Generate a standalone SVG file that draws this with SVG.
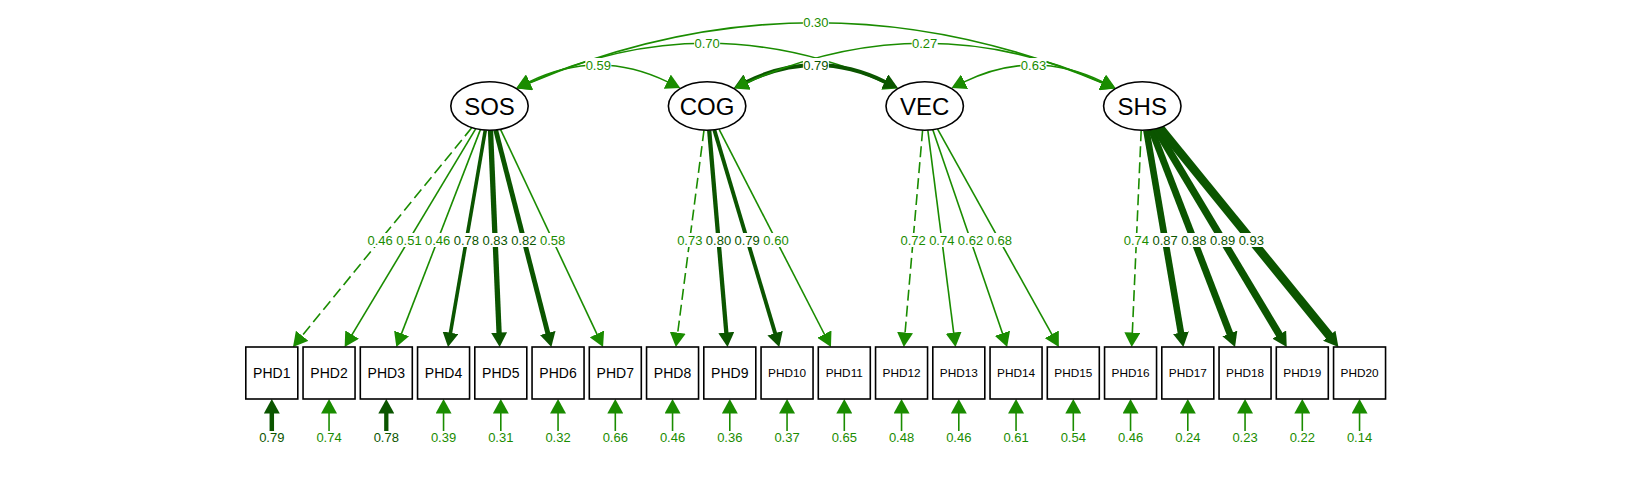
<svg xmlns="http://www.w3.org/2000/svg" width="1632" height="480" viewBox="0 0 1632 480">
<style>
.lt{stroke:#1A8C00;fill:none;stroke-width:1.6}
.dk{stroke:#0B5500;fill:none}
.ds{stroke-dasharray:11 5}
.t{font-family:"Liberation Sans",Arial,sans-serif;font-size:13px;text-anchor:middle}
.tl{fill:#1A8C00}
.td{fill:#0B5500}
.bg{fill:#fff}
.nd{fill:#fff;stroke:#000;stroke-width:1.6}
.nt{font-family:"Liberation Sans",Arial,sans-serif;text-anchor:middle;fill:#000}
</style>
<defs>
<marker id="aL" markerUnits="userSpaceOnUse" viewBox="0 -8 14.5 16" markerWidth="14.5" markerHeight="16" refX="1" refY="0" orient="auto-start-reverse"><path d="M0,-8L14.5,0L0,8z" fill="#1A8C00"/></marker>
<marker id="aD" markerUnits="userSpaceOnUse" viewBox="0 -8 14.5 16" markerWidth="14.5" markerHeight="16" refX="1" refY="0" orient="auto-start-reverse"><path d="M0,-8L14.5,0L0,8z" fill="#0B5500"/></marker>
</defs>
<rect width="1632" height="480" fill="#fff"/>
<g id="connectors">
<path class="lt" d="M528.44,82.14Q598.3,47.86 668.16,82.14" marker-start="url(#aL)" marker-end="url(#aL)"/>
<path class="lt" d="M528.70,82.90Q707.1,3.70 885.50,82.90" marker-start="url(#aL)" marker-end="url(#aL)"/>
<path class="lt" d="M528.90,83.17Q815.9,-37.77 1102.90,83.17" marker-start="url(#aL)" marker-end="url(#aL)"/>
<path class="dk" stroke-width="3.9" d="M746.04,82.14Q815.9,47.86 885.76,82.14" marker-start="url(#aD)" marker-end="url(#aD)"/>
<path class="lt" d="M746.30,82.90Q924.7,3.70 1103.10,82.90" marker-start="url(#aL)" marker-end="url(#aL)"/>
<path class="lt" d="M963.64,82.14Q1033.5,47.86 1103.36,82.14" marker-start="url(#aL)" marker-end="url(#aL)"/>
<line class="lt ds" x1="471.9" y1="127.6" x2="301.5" y2="336.5" marker-end="url(#aL)"/>
<line class="lt" x1="475.8" y1="128.7" x2="351.6" y2="335.4" marker-end="url(#aL)"/>
<line class="lt" x1="480.4" y1="129.6" x2="401.2" y2="334.4" marker-end="url(#aL)"/>
<line class="dk" stroke-width="3.6" x1="485.3" y1="130.2" x2="450.3" y2="333.7" marker-end="url(#aD)"/>
<line class="dk" stroke-width="5.3" x1="490.5" y1="130.3" x2="499.1" y2="333.5" marker-end="url(#aD)"/>
<line class="dk" stroke-width="4.9" x1="495.7" y1="130.0" x2="548.0" y2="333.9" marker-end="url(#aD)"/>
<line class="lt" x1="500.5" y1="129.3" x2="597.3" y2="334.8" marker-end="url(#aL)"/>
<line class="lt ds" x1="704.0" y1="130.2" x2="677.6" y2="333.6" marker-end="url(#aL)"/>
<line class="dk" stroke-width="4.3" x1="709.2" y1="130.3" x2="726.4" y2="333.5" marker-end="url(#aD)"/>
<line class="dk" stroke-width="3.9" x1="714.3" y1="129.9" x2="775.4" y2="334.1" marker-end="url(#aD)"/>
<line class="lt" x1="719.0" y1="129.1" x2="824.8" y2="335.0" marker-end="url(#aL)"/>
<line class="lt ds" x1="922.6" y1="130.3" x2="905.0" y2="333.5" marker-end="url(#aL)"/>
<line class="lt" x1="927.8" y1="130.2" x2="953.8" y2="333.6" marker-end="url(#aL)"/>
<line class="lt" x1="932.8" y1="129.8" x2="1002.8" y2="334.2" marker-end="url(#aL)"/>
<line class="lt" x1="937.5" y1="128.9" x2="1052.3" y2="335.2" marker-end="url(#aL)"/>
<line class="lt ds" x1="1141.2" y1="130.3" x2="1132.3" y2="333.5" marker-end="url(#aL)"/>
<line class="dk" stroke-width="6.6" x1="1146.4" y1="130.2" x2="1181.1" y2="333.7" marker-end="url(#aD)"/>
<line class="dk" stroke-width="6.9" x1="1151.4" y1="129.6" x2="1230.2" y2="334.4" marker-end="url(#aD)"/>
<line class="dk" stroke-width="7.3" x1="1155.9" y1="128.7" x2="1279.8" y2="335.4" marker-end="url(#aD)"/>
<line class="dk" stroke-width="8.6" x1="1159.9" y1="127.6" x2="1329.9" y2="336.5" marker-end="url(#aD)"/>
<line class="dk" stroke-width="4.5" x1="271.8" y1="437" x2="271.8" y2="412.5" marker-end="url(#aD)"/>
<line class="lt" x1="329.05" y1="437" x2="329.05" y2="412.5" marker-end="url(#aL)"/>
<line class="dk" stroke-width="4.3" x1="386.3" y1="437" x2="386.3" y2="412.5" marker-end="url(#aD)"/>
<line class="lt" x1="443.55" y1="437" x2="443.55" y2="412.5" marker-end="url(#aL)"/>
<line class="lt" x1="500.8" y1="437" x2="500.8" y2="412.5" marker-end="url(#aL)"/>
<line class="lt" x1="558.05" y1="437" x2="558.05" y2="412.5" marker-end="url(#aL)"/>
<line class="lt" x1="615.3" y1="437" x2="615.3" y2="412.5" marker-end="url(#aL)"/>
<line class="lt" x1="672.55" y1="437" x2="672.55" y2="412.5" marker-end="url(#aL)"/>
<line class="lt" x1="729.8" y1="437" x2="729.8" y2="412.5" marker-end="url(#aL)"/>
<line class="lt" x1="787.05" y1="437" x2="787.05" y2="412.5" marker-end="url(#aL)"/>
<line class="lt" x1="844.3" y1="437" x2="844.3" y2="412.5" marker-end="url(#aL)"/>
<line class="lt" x1="901.55" y1="437" x2="901.55" y2="412.5" marker-end="url(#aL)"/>
<line class="lt" x1="958.8" y1="437" x2="958.8" y2="412.5" marker-end="url(#aL)"/>
<line class="lt" x1="1016.05" y1="437" x2="1016.05" y2="412.5" marker-end="url(#aL)"/>
<line class="lt" x1="1073.3" y1="437" x2="1073.3" y2="412.5" marker-end="url(#aL)"/>
<line class="lt" x1="1130.55" y1="437" x2="1130.55" y2="412.5" marker-end="url(#aL)"/>
<line class="lt" x1="1187.8" y1="437" x2="1187.8" y2="412.5" marker-end="url(#aL)"/>
<line class="lt" x1="1245.05" y1="437" x2="1245.05" y2="412.5" marker-end="url(#aL)"/>
<line class="lt" x1="1302.3" y1="437" x2="1302.3" y2="412.5" marker-end="url(#aL)"/>
<line class="lt" x1="1359.55" y1="437" x2="1359.55" y2="412.5" marker-end="url(#aL)"/>
<rect class="bg" x="585.3" y="58" width="26" height="14"/><text class="t tl" x="598.3" y="69.6">0.59</text>
<rect class="bg" x="694.1" y="36.3" width="26" height="14"/><text class="t tl" x="707.1" y="47.9">0.70</text>
<rect class="bg" x="802.9" y="15.7" width="26" height="14"/><text class="t tl" x="815.9" y="27.3">0.30</text>
<rect class="bg" x="802.9" y="58" width="26" height="14"/><text class="t td" x="815.9" y="69.6">0.79</text>
<rect class="bg" x="911.7" y="36.3" width="26" height="14"/><text class="t tl" x="924.7" y="47.9">0.27</text>
<rect class="bg" x="1020.5" y="58" width="26" height="14"/><text class="t tl" x="1033.5" y="69.6">0.63</text>
<rect class="bg" x="367.7" y="233" width="25" height="14"/><text class="t tl" x="380.2" y="244.6">0.46</text>
<rect class="bg" x="396.5" y="233" width="25" height="14"/><text class="t tl" x="409.0" y="244.6">0.51</text>
<rect class="bg" x="425.2" y="233" width="25" height="14"/><text class="t tl" x="437.7" y="244.6">0.46</text>
<rect class="bg" x="453.9" y="233" width="25" height="14"/><text class="t td" x="466.4" y="244.6">0.78</text>
<rect class="bg" x="482.7" y="233" width="25" height="14"/><text class="t td" x="495.2" y="244.6">0.83</text>
<rect class="bg" x="511.4" y="233" width="25" height="14"/><text class="t td" x="523.9" y="244.6">0.82</text>
<rect class="bg" x="540.1" y="233" width="25" height="14"/><text class="t tl" x="552.6" y="244.6">0.58</text>
<rect class="bg" x="677.3" y="233" width="25" height="14"/><text class="t tl" x="689.8" y="244.6">0.73</text>
<rect class="bg" x="706.0" y="233" width="25" height="14"/><text class="t td" x="718.5" y="244.6">0.80</text>
<rect class="bg" x="734.7" y="233" width="25" height="14"/><text class="t td" x="747.2" y="244.6">0.79</text>
<rect class="bg" x="763.5" y="233" width="25" height="14"/><text class="t tl" x="776.0" y="244.6">0.60</text>
<rect class="bg" x="900.6" y="233" width="25" height="14"/><text class="t tl" x="913.1" y="244.6">0.72</text>
<rect class="bg" x="929.3" y="233" width="25" height="14"/><text class="t tl" x="941.8" y="244.6">0.74</text>
<rect class="bg" x="958.0" y="233" width="25" height="14"/><text class="t tl" x="970.5" y="244.6">0.62</text>
<rect class="bg" x="986.8" y="233" width="25" height="14"/><text class="t tl" x="999.3" y="244.6">0.68</text>
<rect class="bg" x="1123.9" y="233" width="25" height="14"/><text class="t tl" x="1136.4" y="244.6">0.74</text>
<rect class="bg" x="1152.6" y="233" width="25" height="14"/><text class="t td" x="1165.1" y="244.6">0.87</text>
<rect class="bg" x="1181.4" y="233" width="25" height="14"/><text class="t td" x="1193.9" y="244.6">0.88</text>
<rect class="bg" x="1210.1" y="233" width="25" height="14"/><text class="t td" x="1222.6" y="244.6">0.89</text>
<rect class="bg" x="1238.8" y="233" width="25" height="14"/><text class="t td" x="1251.3" y="244.6">0.93</text>
<rect class="bg" x="259.3" y="431" width="25" height="13"/><text class="t td" x="271.8" y="442">0.79</text>
<rect class="bg" x="316.55" y="431" width="25" height="13"/><text class="t tl" x="329.05" y="442">0.74</text>
<rect class="bg" x="373.8" y="431" width="25" height="13"/><text class="t td" x="386.3" y="442">0.78</text>
<rect class="bg" x="431.05" y="431" width="25" height="13"/><text class="t tl" x="443.55" y="442">0.39</text>
<rect class="bg" x="488.3" y="431" width="25" height="13"/><text class="t tl" x="500.8" y="442">0.31</text>
<rect class="bg" x="545.55" y="431" width="25" height="13"/><text class="t tl" x="558.05" y="442">0.32</text>
<rect class="bg" x="602.8" y="431" width="25" height="13"/><text class="t tl" x="615.3" y="442">0.66</text>
<rect class="bg" x="660.05" y="431" width="25" height="13"/><text class="t tl" x="672.55" y="442">0.46</text>
<rect class="bg" x="717.3" y="431" width="25" height="13"/><text class="t tl" x="729.8" y="442">0.36</text>
<rect class="bg" x="774.55" y="431" width="25" height="13"/><text class="t tl" x="787.05" y="442">0.37</text>
<rect class="bg" x="831.8" y="431" width="25" height="13"/><text class="t tl" x="844.3" y="442">0.65</text>
<rect class="bg" x="889.05" y="431" width="25" height="13"/><text class="t tl" x="901.55" y="442">0.48</text>
<rect class="bg" x="946.3" y="431" width="25" height="13"/><text class="t tl" x="958.8" y="442">0.46</text>
<rect class="bg" x="1003.55" y="431" width="25" height="13"/><text class="t tl" x="1016.05" y="442">0.61</text>
<rect class="bg" x="1060.8" y="431" width="25" height="13"/><text class="t tl" x="1073.3" y="442">0.54</text>
<rect class="bg" x="1118.05" y="431" width="25" height="13"/><text class="t tl" x="1130.55" y="442">0.46</text>
<rect class="bg" x="1175.3" y="431" width="25" height="13"/><text class="t tl" x="1187.8" y="442">0.24</text>
<rect class="bg" x="1232.55" y="431" width="25" height="13"/><text class="t tl" x="1245.05" y="442">0.23</text>
<rect class="bg" x="1289.8" y="431" width="25" height="13"/><text class="t tl" x="1302.3" y="442">0.22</text>
<rect class="bg" x="1347.05" y="431" width="25" height="13"/><text class="t tl" x="1359.55" y="442">0.14</text>
</g>
<g id="n-SOS"><ellipse class="nd" cx="489.5" cy="106" rx="38.7" ry="24.3"/><text class="nt" x="489.5" y="114.8" font-size="24">SOS</text></g>
<g id="n-COG"><ellipse class="nd" cx="707.1" cy="106" rx="38.7" ry="24.3"/><text class="nt" x="707.1" y="114.8" font-size="24">COG</text></g>
<g id="n-VEC"><ellipse class="nd" cx="924.7" cy="106" rx="38.7" ry="24.3"/><text class="nt" x="924.7" y="114.8" font-size="24">VEC</text></g>
<g id="n-SHS"><ellipse class="nd" cx="1142.3" cy="106" rx="38.7" ry="24.3"/><text class="nt" x="1142.3" y="114.8" font-size="24">SHS</text></g>
<g id="n-PHD1"><rect class="nd" x="245.8" y="347" width="52" height="52"/><text class="nt" x="271.8" y="378.2" font-size="14">PHD1</text></g>
<g id="n-PHD2"><rect class="nd" x="303.05" y="347" width="52" height="52"/><text class="nt" x="329.05" y="378.2" font-size="14">PHD2</text></g>
<g id="n-PHD3"><rect class="nd" x="360.3" y="347" width="52" height="52"/><text class="nt" x="386.3" y="378.2" font-size="14">PHD3</text></g>
<g id="n-PHD4"><rect class="nd" x="417.55" y="347" width="52" height="52"/><text class="nt" x="443.55" y="378.2" font-size="14">PHD4</text></g>
<g id="n-PHD5"><rect class="nd" x="474.8" y="347" width="52" height="52"/><text class="nt" x="500.8" y="378.2" font-size="14">PHD5</text></g>
<g id="n-PHD6"><rect class="nd" x="532.05" y="347" width="52" height="52"/><text class="nt" x="558.05" y="378.2" font-size="14">PHD6</text></g>
<g id="n-PHD7"><rect class="nd" x="589.3" y="347" width="52" height="52"/><text class="nt" x="615.3" y="378.2" font-size="14">PHD7</text></g>
<g id="n-PHD8"><rect class="nd" x="646.55" y="347" width="52" height="52"/><text class="nt" x="672.55" y="378.2" font-size="14">PHD8</text></g>
<g id="n-PHD9"><rect class="nd" x="703.8" y="347" width="52" height="52"/><text class="nt" x="729.8" y="378.2" font-size="14">PHD9</text></g>
<g id="n-PHD10"><rect class="nd" x="761.05" y="347" width="52" height="52"/><text class="nt" x="787.05" y="377.3" font-size="11.8">PHD10</text></g>
<g id="n-PHD11"><rect class="nd" x="818.3" y="347" width="52" height="52"/><text class="nt" x="844.3" y="377.3" font-size="11.8">PHD11</text></g>
<g id="n-PHD12"><rect class="nd" x="875.55" y="347" width="52" height="52"/><text class="nt" x="901.55" y="377.3" font-size="11.8">PHD12</text></g>
<g id="n-PHD13"><rect class="nd" x="932.8" y="347" width="52" height="52"/><text class="nt" x="958.8" y="377.3" font-size="11.8">PHD13</text></g>
<g id="n-PHD14"><rect class="nd" x="990.05" y="347" width="52" height="52"/><text class="nt" x="1016.05" y="377.3" font-size="11.8">PHD14</text></g>
<g id="n-PHD15"><rect class="nd" x="1047.3" y="347" width="52" height="52"/><text class="nt" x="1073.3" y="377.3" font-size="11.8">PHD15</text></g>
<g id="n-PHD16"><rect class="nd" x="1104.55" y="347" width="52" height="52"/><text class="nt" x="1130.55" y="377.3" font-size="11.8">PHD16</text></g>
<g id="n-PHD17"><rect class="nd" x="1161.8" y="347" width="52" height="52"/><text class="nt" x="1187.8" y="377.3" font-size="11.8">PHD17</text></g>
<g id="n-PHD18"><rect class="nd" x="1219.05" y="347" width="52" height="52"/><text class="nt" x="1245.05" y="377.3" font-size="11.8">PHD18</text></g>
<g id="n-PHD19"><rect class="nd" x="1276.3" y="347" width="52" height="52"/><text class="nt" x="1302.3" y="377.3" font-size="11.8">PHD19</text></g>
<g id="n-PHD20"><rect class="nd" x="1333.55" y="347" width="52" height="52"/><text class="nt" x="1359.55" y="377.3" font-size="11.8">PHD20</text></g>
</svg>
